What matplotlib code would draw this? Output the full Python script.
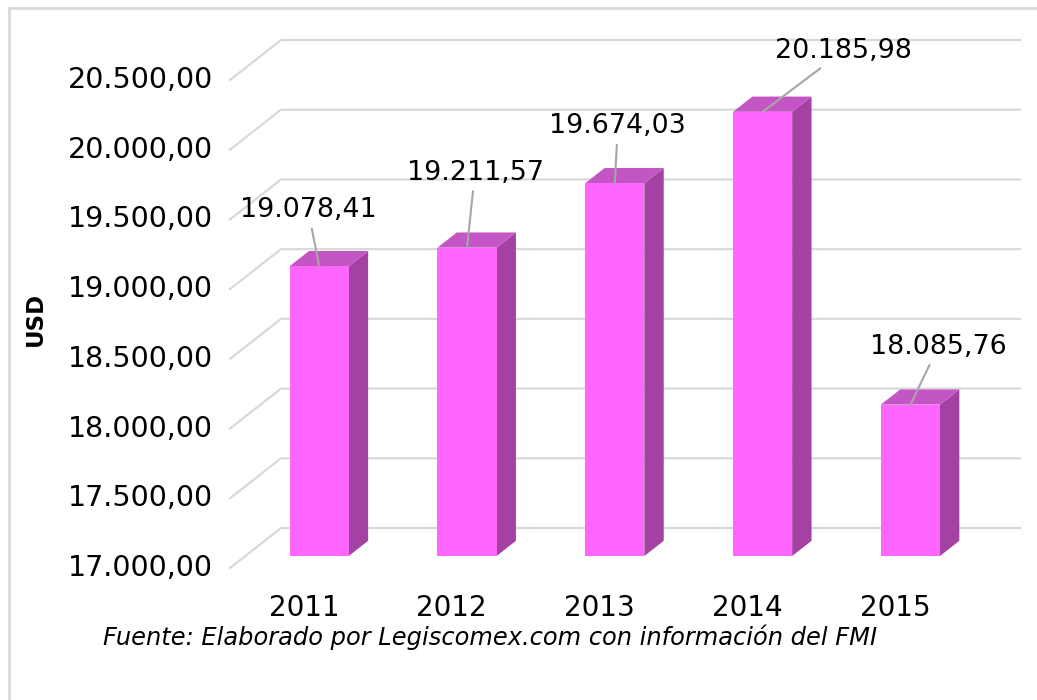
import matplotlib
matplotlib.use("Agg")
import matplotlib.pyplot as plt
from matplotlib.patches import Polygon, Rectangle
from matplotlib.lines import Line2D

years = ["2011", "2012", "2013", "2014", "2015"]
values = [19078.41, 19211.57, 19674.03, 20185.98, 18085.76]
value_labels = ["19.078,41", "19.211,57", "19.674,03", "20.185,98", "18.085,76"]
yticks = [17000, 17500, 18000, 18500, 19000, 19500, 20000, 20500]
ytick_labels = ["17.000,00", "17.500,00", "18.000,00", "18.500,00",
                "19.000,00", "19.500,00", "20.000,00", "20.500,00"]
source = "Fuente: Elaborado por Legiscomex.com con información del FMI"

# label offsets in pixels (from bar top)
label_off = [(-11, 56), (8, 75), (3, 57), (81, 61), (28, 58)]

front_c = "#FF66FF"
top_c = "#C455C4"
side_c = "#A342A3"
grid_c = "#D9D9D9"

W, H = 1037, 700
fig = plt.figure(figsize=(W / 100, H / 100), dpi=100)

# front plane of the 3d box: x 230..969 px, y 568..80 px
ax = fig.add_axes([230 / W, (H - 568) / H, 739 / W, 488 / H])
ax.set_xlim(-0.5, 4.5)
ax.set_ylim(17000, 20500)
ax.axis("off")

# depth offsets in data units
ddx = 51 / 739 * 5
ddy = 40 / 488 * 3500
f0, f1 = 0.3, 0.68
bw = 0.4

# back wall + floor gridlines
for v in yticks:
    ax.add_line(Line2D([-0.5, -0.5 + ddx, 4.5 + ddx], [v, v + ddy, v + ddy],
                       color=grid_c, lw=1.6, clip_on=False, zorder=1))

for i, v in enumerate(values):
    x0 = i - bw / 2 + f0 * ddx
    x1 = i + bw / 2 + f0 * ddx
    yb = 17000 + f0 * ddy
    yt = v + f0 * ddy
    dx = (f1 - f0) * ddx
    dy = (f1 - f0) * ddy
    ax.add_patch(Polygon([(x1, yb), (x1 + dx, yb + dy), (x1 + dx, yt + dy), (x1, yt)],
                         closed=True, fc=side_c, ec="none", clip_on=False, zorder=2))
    ax.add_patch(Polygon([(x0, yt), (x1, yt), (x1 + dx, yt + dy), (x0 + dx, yt + dy)],
                         closed=True, fc=top_c, ec="none", clip_on=False, zorder=2))
    ax.add_patch(Rectangle((x0, yb), x1 - x0, yt - yb, fc=front_c, ec="none",
                           clip_on=False, zorder=3))
    ox, oy = label_off[i]
    ax.annotate(value_labels[i], xy=(i + f0 * ddx, yt), xytext=(ox * 0.72, oy * 0.72),
                textcoords="offset points", ha="center", va="center", fontsize=19.4,
                arrowprops=dict(arrowstyle="-", color="#A6A6A6", lw=1.5,
                                shrinkA=2, shrinkB=0),
                annotation_clip=False, zorder=5)

# y tick labels
for v, lab in zip(yticks, ytick_labels):
    ax.text(-0.5 - 0.115, v, lab, ha="right", va="center", fontsize=20.5,
            transform=ax.transData, clip_on=False)

# category labels
for i, yr in enumerate(years):
    ax.text(i, 17000 - 290, yr, ha="center", va="center", fontsize=20)

fig.text(35 / W, 1 - 319 / H, "USD", rotation=90, ha="center", va="center",
         fontsize=16.5, fontweight="bold")
fig.text(103 / W, 1 - 637 / H, source, ha="left", va="center", fontsize=17.4,
         style="italic")

# outer frame
fig.add_artist(Line2D([9 / W, 9 / W], [0, 1 - 8 / H], color=grid_c, lw=2,
                      transform=fig.transFigure))
fig.add_artist(Line2D([9 / W, 1], [1 - 8 / H, 1 - 8 / H], color=grid_c, lw=2,
                      transform=fig.transFigure))

fig.savefig("out.png", dpi=100)
